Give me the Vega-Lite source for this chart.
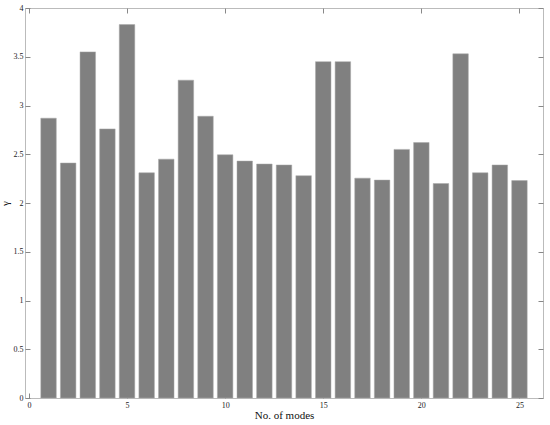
{
  "$schema": "https://vega.github.io/schema/vega-lite/v6.json",
  "width": 518,
  "height": 390,
  "autosize": {"type": "none"},
  "padding": {"left": 25, "top": 8, "right": 7, "bottom": 27},
  "background": "white",
  "config": {
    "view": {"stroke": "#bbbbbb", "strokeWidth": 1},
    "font": "Liberation Serif",
    "scale": {"continuousPadding": 0},
    "axis": {
      "labelFont": "Liberation Serif",
      "titleFont": "Liberation Serif",
      "labelFontSize": 8,
      "labelColor": "#222222",
      "titleColor": "#111111",
      "titleFontWeight": "normal",
      "domainColor": "#bbbbbb",
      "tickColor": "#888888",
      "grid": false
    }
  },
  "data": {
    "values": [
      {"mode": 1, "gamma": 2.87},
      {"mode": 2, "gamma": 2.41},
      {"mode": 3, "gamma": 3.55},
      {"mode": 4, "gamma": 2.76},
      {"mode": 5, "gamma": 3.83},
      {"mode": 6, "gamma": 2.31},
      {"mode": 7, "gamma": 2.45},
      {"mode": 8, "gamma": 3.26},
      {"mode": 9, "gamma": 2.89},
      {"mode": 10, "gamma": 2.495},
      {"mode": 11, "gamma": 2.43},
      {"mode": 12, "gamma": 2.40},
      {"mode": 13, "gamma": 2.39},
      {"mode": 14, "gamma": 2.28},
      {"mode": 15, "gamma": 3.45},
      {"mode": 16, "gamma": 3.45},
      {"mode": 17, "gamma": 2.255},
      {"mode": 18, "gamma": 2.235},
      {"mode": 19, "gamma": 2.55},
      {"mode": 20, "gamma": 2.62},
      {"mode": 21, "gamma": 2.20},
      {"mode": 22, "gamma": 3.53},
      {"mode": 23, "gamma": 2.31},
      {"mode": 24, "gamma": 2.39},
      {"mode": 25, "gamma": 2.23}
    ]
  },
  "layer": [
    {
      "mark": {"type": "bar", "size": 15.5, "color": "#808080", "stroke": "#a8a8a8", "strokeWidth": 0.5, "orient": "vertical"},
      "encoding": {
        "x": {
          "field": "mode",
          "type": "quantitative",
          "scale": {"domain": [-0.2, 26.2], "nice": false, "zero": false, "padding": 0},
          "axis": {"values": [0, 5, 10, 15, 20, 25], "format": "~g", "title": "No. of modes", "titleFontSize": 11, "titlePadding": 0, "tickSize": -5, "labelPadding": 8, "domain": false}
        },
        "y": {
          "field": "gamma",
          "type": "quantitative",
          "scale": {"domain": [0, 4], "nice": false, "padding": 0},
          "axis": {"values": [0, 0.5, 1, 1.5, 2, 2.5, 3, 3.5, 4], "format": "~g", "title": "γ", "titleFontSize": 11, "titleAngle": -90, "titlePadding": 3, "tickSize": -5, "labelPadding": 7, "domain": false}
        }
      }
    },
    {
      "mark": {"type": "point", "opacity": 0},
      "encoding": {
        "x": {
          "field": "mode",
          "type": "quantitative",
          "scale": {"domain": [-0.2, 26.2], "nice": false, "zero": false, "padding": 0},
          "axis": {"orient": "top", "values": [0, 5, 10, 15, 20, 25], "labels": false, "title": null, "tickSize": -5, "domain": false}
        },
        "y": {
          "field": "gamma",
          "type": "quantitative",
          "scale": {"domain": [0, 4], "nice": false, "padding": 0},
          "axis": {"orient": "right", "values": [0, 0.5, 1, 1.5, 2, 2.5, 3, 3.5, 4], "labels": false, "title": null, "tickSize": -5, "domain": false}
        }
      }
    }
  ],
  "resolve": {"axis": {"x": "independent", "y": "independent"}}
}
